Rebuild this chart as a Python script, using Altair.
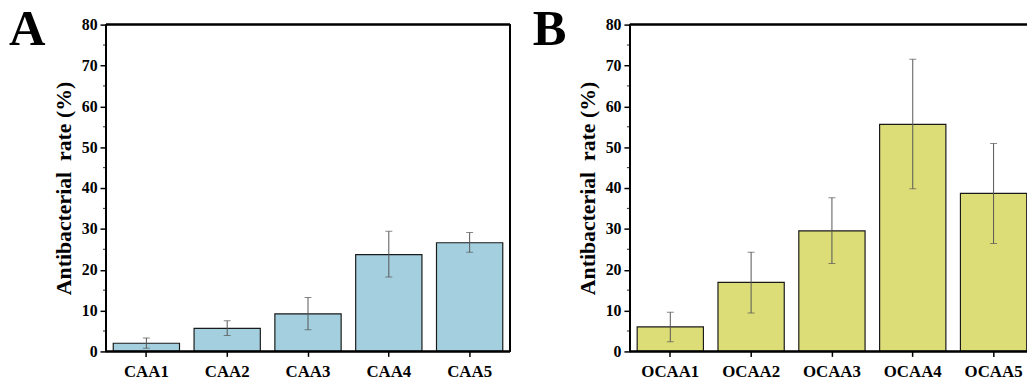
import altair as alt
import pandas as pd

# ---- data ----
cats_a = ["CAA1", "CAA2", "CAA3", "CAA4", "CAA5"]
vals_a = [2.0, 5.65, 9.2, 23.7, 26.6]
lo_a = [0.8, 3.9, 5.3, 18.2, 24.3]
hi_a = [3.3, 7.5, 13.2, 29.4, 29.1]

cats_b = ["OCAA1", "OCAA2", "OCAA3", "OCAA4", "OCAA5"]
vals_b = [6.0, 16.9, 29.5, 55.6, 38.7]
lo_b = [2.4, 9.4, 21.5, 39.8, 26.4]
hi_b = [9.6, 24.3, 37.6, 71.5, 50.9]

y_ticks = [0, 10, 20, 30, 40, 50, 60, 70, 80]
minor_ticks = [5, 15, 25, 35, 45, 55, 65, 75]

FONT = "Liberation Serif"
H = 330


def panel(cats, vals, lo, hi, color, letter, width, p_outer, align, right_border):
    df = pd.DataFrame({"cat": cats, "val": vals, "lo": lo, "hi": hi})
    xscale = alt.Scale(domain=cats, paddingInner=0.18, paddingOuter=p_outer, align=align)
    yscale = alt.Scale(domain=[0, 80], nice=False, zero=True)
    x = alt.X("cat:N", sort=cats, scale=xscale,
              axis=alt.Axis(title=None, domain=False, labelAngle=0, labelFont=FONT,
                            labelFontWeight="bold", labelFontSize=17, labelColor="black",
                            tickSize=5, tickWidth=1.5, tickColor="black", labelPadding=7))
    y = alt.Y("val:Q", scale=yscale,
              axis=alt.Axis(title="Antibacterial\u00a0 rate (%)", values=y_ticks, grid=False,
                            domain=False, labelFont=FONT, labelFontWeight="bold",
                            labelFontSize=16, labelColor="black", tickSize=6, tickWidth=1.5,
                            tickColor="black", labelPadding=3, titleFont=FONT,
                            titleFontWeight="bold", titleFontSize=22, titleColor="black",
                            titlePadding=6))
    base = alt.Chart(df)
    bars = base.mark_bar(color=color, stroke="#1a1a1a", strokeWidth=1.2, clip=True).encode(x=x, y=y)
    err = base.mark_rule(color="#555555", strokeWidth=1, clip=True).encode(
        x=alt.X("cat:N", sort=cats, scale=xscale), y=alt.Y("lo:Q", scale=yscale), y2="hi:Q")
    cap_hi = base.mark_tick(color="#555555", thickness=1, size=7, clip=True).encode(
        x=alt.X("cat:N", sort=cats, scale=xscale), y=alt.Y("hi:Q", scale=yscale))
    cap_lo = base.mark_tick(color="#555555", thickness=1, size=7, clip=True).encode(
        x=alt.X("cat:N", sort=cats, scale=xscale), y=alt.Y("lo:Q", scale=yscale))
    minor = alt.Chart(pd.DataFrame({"m": minor_ticks})).mark_tick(
        color="black", thickness=1.2, size=3, orient="horizontal").encode(
        y=alt.Y("m:Q", scale=yscale), x=alt.value(-1.5))
    frame = [
        alt.Chart(df).mark_rule(color="black", strokeWidth=1.5).encode(
            x=alt.value(0), x2=alt.value(width), y=alt.value(0)),
        alt.Chart(df).mark_rule(color="black", strokeWidth=1.5).encode(
            x=alt.value(0), x2=alt.value(width), y=alt.value(H)),
        alt.Chart(df).mark_rule(color="black", strokeWidth=1.5).encode(
            x=alt.value(0), y=alt.value(0), y2=alt.value(H)),
    ]
    if right_border:
        frame.append(alt.Chart(df).mark_rule(color="black", strokeWidth=1.5).encode(
            x=alt.value(width), y=alt.value(0), y2=alt.value(H)))
    lbl = alt.Chart(pd.DataFrame({"t": [letter]})).mark_text(
        font=FONT, fontWeight="bold", fontSize=51, align="left", baseline="alphabetic",
        color="black").encode(text="t:N", x=alt.value(-98), y=alt.value(21))
    return alt.layer(bars, err, cap_hi, cap_lo, minor, *frame, lbl).properties(width=width, height=H)


pa = panel(cats_a, vals_a, lo_a, hi_a, "#a4cfdf", "A", 408, 0.09, 0.5, True)
pb = panel(cats_b, vals_b, lo_b, hi_b, "#dddd78", "B", 401, 0.047, 0.96, False)

chart = alt.hconcat(pa, pb, spacing=22).properties(
    padding={"left": 9, "top": 3, "right": 0, "bottom": 0}
).configure_view(stroke=None)

chart.save("out.html", embed_options={"renderer": "svg", "actions": False})
